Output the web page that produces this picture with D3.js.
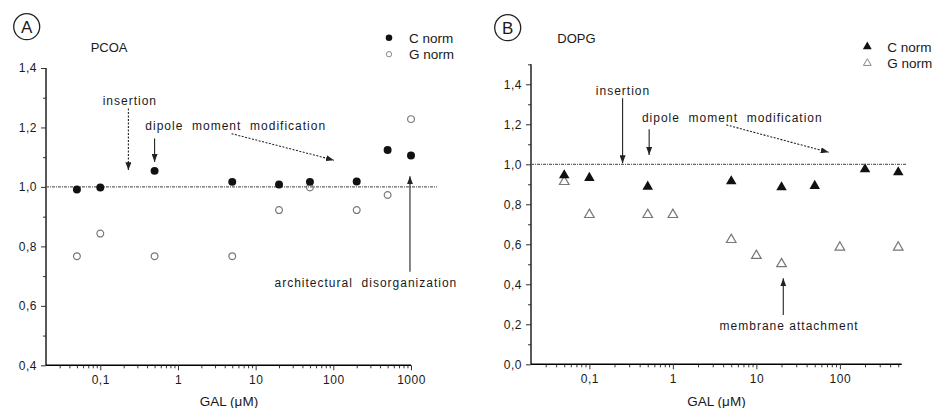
<!DOCTYPE html>
<html>
<head>
<meta charset="utf-8">
<script src="https://cdn.jsdelivr.net/npm/d3@7"></script>
<style>
  body { margin: 0; background: #fff; }
  text { font-family: "Liberation Sans", Arial, sans-serif; fill: #1a1a1a; }
</style>
</head>
<body>
<div id="chart"></div>
<script>
var svgWidth = 933;
var svgHeight = 408;

// Panel A (PCOA)
var concA = [0.05, 0.1, 0.5, 5, 20, 50, 200, 500, 1000];
var cNormA = [0.991, 0.998, 1.054, 1.017, 1.008, 1.017, 1.018, 1.124, 1.106];
var gNormA = [0.767, 0.843, 0.767, 0.767, 0.922, 0.998, 0.922, 0.973, 1.228];
var xTicksA = [0.1, 1, 10, 100, 1000];
var yTicksA = [0.4, 0.6, 0.8, 1.0, 1.2, 1.4];

// Panel B (DOPG)
var concBC = [0.05, 0.1, 0.5, 5, 20, 50, 200, 500];
var cNormB = [0.945, 0.932, 0.888, 0.915, 0.885, 0.892, 0.975, 0.96];
var concBG = [0.05, 0.1, 0.5, 1, 5, 10, 20, 100, 500];
var gNormB = [0.913, 0.748, 0.748, 0.748, 0.623, 0.543, 0.502, 0.585, 0.585];
var xTicksB = [0.1, 1, 10, 100];
var yTicksB = [0.0, 0.2, 0.4, 0.6, 0.8, 1.0, 1.2, 1.4];

var comma = d3.formatLocale({decimal: ",", thousands: ".", grouping: [3], currency: ["", ""]});
var fmtY = comma.format(".1f");
var fmtX = function(d) { return d < 1 ? comma.format(".1f")(d) : String(d); };

var svg = d3.select("#chart")
  .append("svg")
  .attr("width", svgWidth)
  .attr("height", svgHeight);

var defs = svg.append("defs");
defs.append("marker")
  .attr("id", "head")
  .attr("viewBox", "0 0 8 6")
  .attr("refX", 8)
  .attr("refY", 3)
  .attr("markerWidth", 8)
  .attr("markerHeight", 6)
  .attr("markerUnits", "userSpaceOnUse")
  .attr("orient", "auto")
  .append("path")
  .attr("d", "M0,0 L8,3 L0,6 z")
  .attr("fill", "#222");

function minorTicks(domain) {
  var out = [];
  for (var e = -3; e <= 4; e++) {
    for (var m = 2; m <= 9; m++) {
      var v = m * Math.pow(10, e);
      if (v > domain[0] && v < domain[1]) out.push(v);
    }
  }
  return out;
}

function drawPanel(p) {
  var g = svg.append("g");
  var x = d3.scaleLog().domain(p.xDomain).range(p.xRange);
  var y = d3.scaleLinear().domain(p.yDomain).range(p.yRange);

  // minor y ticks
  var yMinor = [];
  for (var v = p.yDomain[0] + 0.1; v <= p.yAxisTop + 1e-6; v += 0.2) yMinor.push(+v.toFixed(2));

  g.append("g")
    .attr("transform", `translate(${p.xRange[0]},0)`)
    .call(d3.axisLeft(y).tickValues(yMinor).tickSize(3).tickFormat(""))
    .call(s => s.select(".domain").remove());

  g.append("g")
    .attr("transform", `translate(${p.xRange[0]},0)`)
    .call(d3.axisLeft(y).tickValues(p.yTicks).tickSize(5).tickPadding(4).tickFormat(fmtY))
    .call(s => s.select(".domain").remove());

  g.append("line")
    .attr("x1", p.xRange[0]).attr("x2", p.xRange[0])
    .attr("y1", y(p.yDomain[0])).attr("y2", y(p.yAxisTop))
    .attr("stroke", "#222").attr("stroke-width", 1.5);

  // x axis
  g.append("g")
    .attr("transform", `translate(0,${p.yRange[0]})`)
    .call(d3.axisBottom(x).tickValues(minorTicks(p.xDomain)).tickSize(3).tickFormat(""))
    .call(s => s.select(".domain").remove());

  g.append("g")
    .attr("transform", `translate(0,${p.yRange[0]})`)
    .call(d3.axisBottom(x).tickValues(p.xTicks).tickSize(5).tickPadding(5).tickFormat(fmtX))
    .call(s => s.select(".domain").attr("stroke-width", 1.5).attr("d", `M${p.xRange[0]},0H${p.xRange[1]}`));

  g.selectAll(".tick line").attr("stroke", "#333");
  g.selectAll(".tick text")
    .style("font-family", '"Liberation Sans", Arial, sans-serif')
    .style("font-size", "12px")
    .style("letter-spacing", "0.5px")
    .attr("fill", "#333");

  // reference line at 1
  g.append("line")
    .attr("x1", p.xRange[0]).attr("x2", p.refEnd)
    .attr("y1", y(1)).attr("y2", y(1))
    .attr("stroke", "#666").attr("stroke-width", 1.3)
    .attr("stroke-dasharray", "3,1,1,1");

  // series
  var cData = d3.zip(p.cX, p.cY);
  var gData = d3.zip(p.gX, p.gY);
  var sym = p.shape === "circle" ? d3.symbolCircle : d3.symbolTriangle;

  g.selectAll(".gpt").data(gData).enter().append("path")
    .attr("transform", d => `translate(${x(d[0])},${y(d[1])})`)
    .attr("d", d3.symbol().type(sym).size(p.shape === "circle" ? 36 : 40))
    .attr("fill", "none").attr("stroke", "#777").attr("stroke-width", 1.2);

  g.selectAll(".cpt").data(cData).enter().append("path")
    .attr("transform", d => `translate(${x(d[0])},${y(d[1])})`)
    .attr("d", d3.symbol().type(sym).size(p.shape === "circle" ? 50 : 48))
    .attr("fill", "#111");

  // annotations
  p.arrows.forEach(function(a) {
    g.append("line")
      .attr("x1", x(a[0])).attr("y1", y(a[1]))
      .attr("x2", x(a[2])).attr("y2", y(a[3]))
      .attr("stroke", "#222").attr("stroke-width", 1.1)
      .attr("stroke-dasharray", a[4] ? "2,1.5" : null)
      .attr("marker-end", "url(#head)");
  });
  p.notes.forEach(function(n) {
    g.append("text")
      .attr("x", x(n.x)).attr("y", y(n.y))
      .attr("text-anchor", n.anchor || "start")
      .style("font-size", "12px")
      .style("letter-spacing", "1px")
      .style("white-space", "pre")
      .text(n.t);
  });

  // panel letter + title
  g.append("circle").attr("cx", p.badge[0]).attr("cy", p.badge[1]).attr("r", 13)
    .attr("fill", "none").attr("stroke", "#222").attr("stroke-width", 1.3);
  g.append("text").attr("x", p.badge[0]).attr("y", p.badge[1] + 6)
    .attr("text-anchor", "middle").style("font-size", "17px").text(p.letter);
  g.append("text").attr("x", p.title[0]).attr("y", p.title[1])
    .style("font-size", "13px").text(p.name);

  // legend
  var lg = g.append("g").attr("transform", `translate(${p.legend[0]},${p.legend[1]})`);
  lg.append("path")
    .attr("d", d3.symbol().type(sym).size(34)).attr("fill", "#111");
  lg.append("path").attr("transform", "translate(0,16.5)")
    .attr("d", d3.symbol().type(sym).size(p.shape === "circle" ? 22 : 26))
    .attr("fill", "none").attr("stroke", "#888").attr("stroke-width", 1);
  lg.append("text").attr("x", 20).attr("y", 5).style("font-size", "13.5px").text("C norm");
  lg.append("text").attr("x", 20).attr("y", 21.5).style("font-size", "13.5px").text("G norm");

  // x title
  g.append("text")
    .attr("x", p.xTitle).attr("y", 406)
    .attr("text-anchor", "middle").style("font-size", "13.5px")
    .text("GAL (\u03bcM)");
}

drawPanel({
  xDomain: [0.02, 1000], xRange: [46, 411],
  yDomain: [0.4, 1.4], yRange: [365.3, 68], yAxisTop: 1.4,
  xTicks: xTicksA, yTicks: yTicksA, refEnd: 437, xTitle: 229,
  cX: concA, cY: cNormA, gX: concA, gY: gNormA, shape: "circle",
  letter: "A", badge: [26.7, 26.7], name: "PCOA", title: [90.7, 51.5], legend: [389, 37.7],
  arrows: [
    [0.23, 1.264, 0.23, 1.056, true],
    [0.5, 1.163, 0.5, 1.084, false],
    [4.9, 1.179, 102, 1.09, true],
    [970, 0.715, 970, 1.036, false]
  ],
  notes: [
    {t: "insertion", x: 0.24, y: 1.277, anchor: "middle"},
    {t: "dipole  moment  modification", x: 0.38, y: 1.19},
    {t: "architectural  disorganization", x: 17.5, y: 0.663}
  ]
});

drawPanel({
  xDomain: [0.02, 550], xRange: [531, 901.7],
  yDomain: [0, 1.5], yRange: [364.3, 64.3], yAxisTop: 1.5,
  xTicks: xTicksB, yTicks: yTicksB, refEnd: 906.7, xTitle: 716.5,
  cX: concBC, cY: cNormB, gX: concBG, gY: gNormB, shape: "triangle",
  letter: "B", badge: [507.7, 27.7], name: "DOPG", title: [557.3, 42.5], legend: [867.3, 46.7],
  arrows: [
    [0.25, 1.33, 0.25, 1.005, false],
    [0.52, 1.175, 0.52, 1.047, false],
    [4.37, 1.197, 73.5, 1.06, true],
    [21, 0.247, 21, 0.43, false]
  ],
  notes: [
    {t: "insertion", x: 0.253, y: 1.347, anchor: "middle"},
    {t: "dipole  moment  modification", x: 0.426, y: 1.211},
    {t: "membrane attachment", x: 3.63, y: 0.174}
  ]
});
</script>
</body>
</html>
